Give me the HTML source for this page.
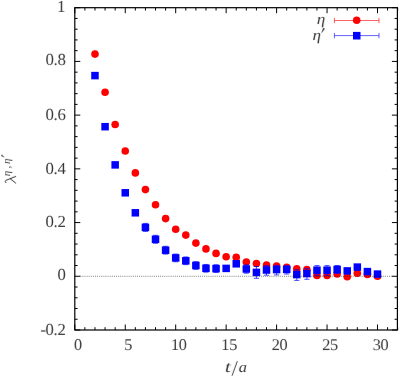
<!DOCTYPE html><html><head><meta charset="utf-8"><style>html,body{margin:0;padding:0;background:#fff}</style></head><body><svg width="399" height="377" viewBox="0 0 399 377" style="display:block"><rect width="399" height="377" fill="#fff"/><path d="M74.80 330.0v-5.5M74.80 7.7v5.5M84.89 330.0v-2.8M84.89 7.7v2.8M94.98 330.0v-2.8M94.98 7.7v2.8M105.07 330.0v-2.8M105.07 7.7v2.8M115.16 330.0v-2.8M115.16 7.7v2.8M125.25 330.0v-5.5M125.25 7.7v5.5M135.34 330.0v-2.8M135.34 7.7v2.8M145.43 330.0v-2.8M145.43 7.7v2.8M155.52 330.0v-2.8M155.52 7.7v2.8M165.61 330.0v-2.8M165.61 7.7v2.8M175.70 330.0v-5.5M175.70 7.7v5.5M185.79 330.0v-2.8M185.79 7.7v2.8M195.88 330.0v-2.8M195.88 7.7v2.8M205.97 330.0v-2.8M205.97 7.7v2.8M216.06 330.0v-2.8M216.06 7.7v2.8M226.15 330.0v-5.5M226.15 7.7v5.5M236.24 330.0v-2.8M236.24 7.7v2.8M246.33 330.0v-2.8M246.33 7.7v2.8M256.42 330.0v-2.8M256.42 7.7v2.8M266.51 330.0v-2.8M266.51 7.7v2.8M276.60 330.0v-5.5M276.60 7.7v5.5M286.69 330.0v-2.8M286.69 7.7v2.8M296.78 330.0v-2.8M296.78 7.7v2.8M306.87 330.0v-2.8M306.87 7.7v2.8M316.96 330.0v-2.8M316.96 7.7v2.8M327.05 330.0v-5.5M327.05 7.7v5.5M337.14 330.0v-2.8M337.14 7.7v2.8M347.23 330.0v-2.8M347.23 7.7v2.8M357.32 330.0v-2.8M357.32 7.7v2.8M367.41 330.0v-2.8M367.41 7.7v2.8M377.50 330.0v-5.5M377.50 7.7v5.5M387.59 330.0v-2.8M387.59 7.7v2.8M397.68 330.0v-2.8M397.68 7.7v2.8M74.8 330.00h5.5M397.4 330.00h-5.5M74.8 319.26h2.8M397.4 319.26h-2.8M74.8 308.51h2.8M397.4 308.51h-2.8M74.8 297.77h2.8M397.4 297.77h-2.8M74.8 287.03h2.8M397.4 287.03h-2.8M74.8 276.28h5.5M397.4 276.28h-5.5M74.8 265.54h2.8M397.4 265.54h-2.8M74.8 254.80h2.8M397.4 254.80h-2.8M74.8 244.05h2.8M397.4 244.05h-2.8M74.8 233.31h2.8M397.4 233.31h-2.8M74.8 222.57h5.5M397.4 222.57h-5.5M74.8 211.82h2.8M397.4 211.82h-2.8M74.8 201.08h2.8M397.4 201.08h-2.8M74.8 190.34h2.8M397.4 190.34h-2.8M74.8 179.59h2.8M397.4 179.59h-2.8M74.8 168.85h5.5M397.4 168.85h-5.5M74.8 158.11h2.8M397.4 158.11h-2.8M74.8 147.36h2.8M397.4 147.36h-2.8M74.8 136.62h2.8M397.4 136.62h-2.8M74.8 125.88h2.8M397.4 125.88h-2.8M74.8 115.13h5.5M397.4 115.13h-5.5M74.8 104.39h2.8M397.4 104.39h-2.8M74.8 93.65h2.8M397.4 93.65h-2.8M74.8 82.90h2.8M397.4 82.90h-2.8M74.8 72.16h2.8M397.4 72.16h-2.8M74.8 61.42h5.5M397.4 61.42h-5.5M74.8 50.67h2.8M397.4 50.67h-2.8M74.8 39.93h2.8M397.4 39.93h-2.8M74.8 29.19h2.8M397.4 29.19h-2.8M74.8 18.44h2.8M397.4 18.44h-2.8M74.8 7.70h5.5M397.4 7.70h-5.5" stroke="#000" stroke-width="1" fill="none"/><rect x="74.8" y="7.7" width="322.59999999999997" height="322.3" fill="none" stroke="#000" stroke-width="1.2"/><g font-family="'Liberation Serif', serif" font-size="16.8px" letter-spacing="-0.4" fill="#333" style="opacity:0.99" transform="rotate(0.03 200 190)" text-rendering="geometricPrecision"><text x="65.4" y="335.00" text-anchor="end">-0.2</text><text x="65.4" y="280.43" text-anchor="end">0</text><text x="65.4" y="227.12" text-anchor="end">0.2</text><text x="65.4" y="173.50" text-anchor="end">0.4</text><text x="65.4" y="120.13" text-anchor="end">0.6</text><text x="65.4" y="65.27" text-anchor="end">0.8</text><text x="64.9" y="12.05" text-anchor="end">1</text><text x="77.80" y="350.2" text-anchor="middle" font-size="16.4px" letter-spacing="-0.4">0</text><text x="128.25" y="350.2" text-anchor="middle" font-size="16.4px" letter-spacing="-0.4">5</text><text x="178.70" y="350.2" text-anchor="middle" font-size="16.4px" letter-spacing="-0.4">10</text><text x="229.15" y="350.2" text-anchor="middle" font-size="16.4px" letter-spacing="-0.4">15</text><text x="279.60" y="350.2" text-anchor="middle" font-size="16.4px" letter-spacing="-0.4">20</text><text x="330.05" y="350.2" text-anchor="middle" font-size="16.4px" letter-spacing="-0.4">25</text><text x="380.50" y="350.2" text-anchor="middle" font-size="16.4px" letter-spacing="-0.4">30</text><text transform="translate(225.1,372.2) scale(1.3,1)" font-style="italic" font-size="16px" letter-spacing="0">t</text><text transform="translate(238.7,372.2) scale(1.1,1)" font-style="italic" font-size="15px" letter-spacing="0">a</text><path d="M232.1 375.7L237.4 361.1" stroke="#222" stroke-width="0.85" fill="none"/><g transform="translate(16.1,184.0) rotate(-90)" font-style="italic" letter-spacing="0"><path d="M1.0 -10.0Q2.6 -11.6 3.6 -10.2L7.6 -0.1M5.3 -5.9L0.6 -0.1" stroke="#222" stroke-width="0.95" fill="none"/><text x="7.7" y="-6.3" font-size="10.8px">η</text><text x="15.6" y="-6.3" font-size="10.8px">,</text><text x="20" y="-6.3" font-size="10.8px">η</text><path d="M26.6 -11.9L28.1 -14.7L29.2 -14.2Z" fill="#222" stroke="#222" stroke-width="0.3"/></g><text transform="translate(325.1,24.3) scale(1.1,1)" text-anchor="end" font-style="italic" font-size="15.5px" letter-spacing="0">η</text><text transform="translate(320.9,39.6) scale(1.1,1)" text-anchor="end" font-style="italic" font-size="15.5px" letter-spacing="0">η</text><path d="M321.5 32.7L323.3 28.1L324.6 28.7Z" fill="#222" stroke="#222" stroke-width="0.3"/></g><path d="M334.4 20.5H379.0M334.4 17.8v5.4M379.0 17.8v5.4" stroke="#f00" stroke-width="0.62" fill="none"/><path d="M334.4 35.6H379.0M334.4 32.9v5.4M379.0 32.9v5.4" stroke="#00f" stroke-width="0.62" fill="none"/><circle cx="356.7" cy="20.3" r="3.8" fill="#f00"/><rect x="353.0" y="31.900000000000002" width="7.5" height="7.6" fill="#00f"/><circle cx="94.98" cy="54.1" r="3.8" fill="#f00"/><circle cx="105.07" cy="92.3" r="3.8" fill="#f00"/><circle cx="115.16" cy="124.5" r="3.8" fill="#f00"/><circle cx="125.25" cy="151.0" r="3.8" fill="#f00"/><circle cx="135.34" cy="172.9" r="3.8" fill="#f00"/><circle cx="145.43" cy="189.6" r="3.8" fill="#f00"/><circle cx="155.52" cy="204.8" r="3.8" fill="#f00"/><circle cx="165.61" cy="218.6" r="3.8" fill="#f00"/><circle cx="175.70" cy="229.3" r="3.8" fill="#f00"/><circle cx="185.79" cy="235.1" r="3.8" fill="#f00"/><circle cx="195.88" cy="243.1" r="3.8" fill="#f00"/><circle cx="205.97" cy="248.9" r="3.8" fill="#f00"/><circle cx="216.06" cy="253.4" r="3.8" fill="#f00"/><circle cx="226.15" cy="256.8" r="3.8" fill="#f00"/><circle cx="236.24" cy="257.3" r="3.8" fill="#f00"/><circle cx="246.33" cy="262" r="3.8" fill="#f00"/><circle cx="256.42" cy="263.5" r="3.8" fill="#f00"/><circle cx="266.51" cy="265.0" r="3.8" fill="#f00"/><circle cx="276.60" cy="266.0" r="3.8" fill="#f00"/><circle cx="286.69" cy="267.4" r="3.8" fill="#f00"/><circle cx="296.78" cy="268.9" r="3.8" fill="#f00"/><circle cx="306.87" cy="269.6" r="3.8" fill="#f00"/><circle cx="316.96" cy="275.5" r="3.8" fill="#f00"/><circle cx="327.05" cy="275.5" r="3.8" fill="#f00"/><circle cx="337.14" cy="274.0" r="3.8" fill="#f00"/><circle cx="347.23" cy="276.7" r="3.8" fill="#f00"/><circle cx="357.32" cy="273.2" r="3.8" fill="#f00"/><circle cx="367.41" cy="274.5" r="3.8" fill="#f00"/><circle cx="377.50" cy="276.2" r="3.8" fill="#f00"/><rect x="91.23" y="71.85" width="7.5" height="7.5" fill="#00f"/><rect x="101.32" y="122.95" width="7.5" height="7.5" fill="#00f"/><rect x="111.41" y="161.15" width="7.5" height="7.5" fill="#00f"/><rect x="121.50" y="189.05" width="7.5" height="7.5" fill="#00f"/><rect x="131.59" y="209.05" width="7.5" height="7.5" fill="#00f"/><path d="M145.43 223.40V231.40M142.83 223.40h5.2M142.83 231.40h5.2" stroke="#00f" stroke-width="0.7" fill="none"/><rect x="141.68" y="223.65" width="7.5" height="7.5" fill="#00f"/><path d="M155.52 235.30V243.30M152.92 235.30h5.2M152.92 243.30h5.2" stroke="#00f" stroke-width="0.7" fill="none"/><rect x="151.77" y="235.55" width="7.5" height="7.5" fill="#00f"/><path d="M165.61 246.30V254.10M163.01 246.30h5.2M163.01 254.10h5.2" stroke="#00f" stroke-width="0.7" fill="none"/><rect x="161.86" y="246.45" width="7.5" height="7.5" fill="#00f"/><path d="M175.70 254.05V261.75M173.10 254.05h5.2M173.10 261.75h5.2" stroke="#00f" stroke-width="0.7" fill="none"/><rect x="171.95" y="254.15" width="7.5" height="7.5" fill="#00f"/><path d="M185.79 256.95V264.65M183.19 256.95h5.2M183.19 264.65h5.2" stroke="#00f" stroke-width="0.7" fill="none"/><rect x="182.04" y="257.05" width="7.5" height="7.5" fill="#00f"/><path d="M195.88 261.65V269.35M193.28 261.65h5.2M193.28 269.35h5.2" stroke="#00f" stroke-width="0.7" fill="none"/><rect x="192.13" y="261.75" width="7.5" height="7.5" fill="#00f"/><path d="M205.97 264.45V272.15M203.37 264.45h5.2M203.37 272.15h5.2" stroke="#00f" stroke-width="0.7" fill="none"/><rect x="202.22" y="264.55" width="7.5" height="7.5" fill="#00f"/><path d="M216.06 264.75V272.45M213.46 264.75h5.2M213.46 272.45h5.2" stroke="#00f" stroke-width="0.7" fill="none"/><rect x="212.31" y="264.85" width="7.5" height="7.5" fill="#00f"/><rect x="222.40" y="264.65" width="7.5" height="7.5" fill="#00f"/><rect x="232.49" y="260.05" width="7.5" height="7.5" fill="#00f"/><path d="M246.33 264.80V273.20M243.73 264.80h5.2M243.73 273.20h5.2" stroke="#00f" stroke-width="0.7" fill="none"/><rect x="242.58" y="265.25" width="7.5" height="7.5" fill="#00f"/><path d="M256.42 266.50V278.30M253.82 266.50h5.2M253.82 278.30h5.2" stroke="#00f" stroke-width="0.7" fill="none"/><rect x="252.67" y="268.65" width="7.5" height="7.5" fill="#00f"/><path d="M266.51 265.60V275.20M263.91 265.60h5.2M263.91 275.20h5.2" stroke="#00f" stroke-width="0.7" fill="none"/><rect x="262.76" y="266.25" width="7.5" height="7.5" fill="#00f"/><path d="M276.60 265.40V274.90M274.00 265.40h5.2M274.00 274.90h5.2" stroke="#00f" stroke-width="0.7" fill="none"/><rect x="272.85" y="265.85" width="7.5" height="7.5" fill="#00f"/><path d="M286.69 265.70V274.00M284.09 265.70h5.2M284.09 274.00h5.2" stroke="#00f" stroke-width="0.7" fill="none"/><rect x="282.94" y="265.65" width="7.5" height="7.5" fill="#00f"/><path d="M296.78 269.80V280.40M294.18 269.80h5.2M294.18 280.40h5.2" stroke="#00f" stroke-width="0.7" fill="none"/><rect x="293.03" y="270.85" width="7.5" height="7.5" fill="#00f"/><path d="M306.87 268.60V279.30M304.27 268.60h5.2M304.27 279.30h5.2" stroke="#00f" stroke-width="0.7" fill="none"/><rect x="303.12" y="269.85" width="7.5" height="7.5" fill="#00f"/><path d="M316.96 265.60V275.30M314.36 265.60h5.2M314.36 275.30h5.2" stroke="#00f" stroke-width="0.7" fill="none"/><rect x="313.21" y="266.45" width="7.5" height="7.5" fill="#00f"/><path d="M327.05 265.60V275.30M324.45 265.60h5.2M324.45 275.30h5.2" stroke="#00f" stroke-width="0.7" fill="none"/><rect x="323.30" y="266.45" width="7.5" height="7.5" fill="#00f"/><path d="M337.14 265.50V273.50M334.54 265.50h5.2M334.54 273.50h5.2" stroke="#00f" stroke-width="0.7" fill="none"/><rect x="333.39" y="265.75" width="7.5" height="7.5" fill="#00f"/><rect x="343.48" y="267.15" width="7.5" height="7.5" fill="#00f"/><rect x="353.57" y="263.35" width="7.5" height="7.5" fill="#00f"/><rect x="363.66" y="267.85" width="7.5" height="7.5" fill="#00f"/><rect x="373.75" y="270.35" width="7.5" height="7.5" fill="#00f"/><line x1="80.3" y1="276.28" x2="391.9" y2="276.28" stroke="#000" stroke-width="0.5" stroke-dasharray="1,1.1"/></svg></body></html>
